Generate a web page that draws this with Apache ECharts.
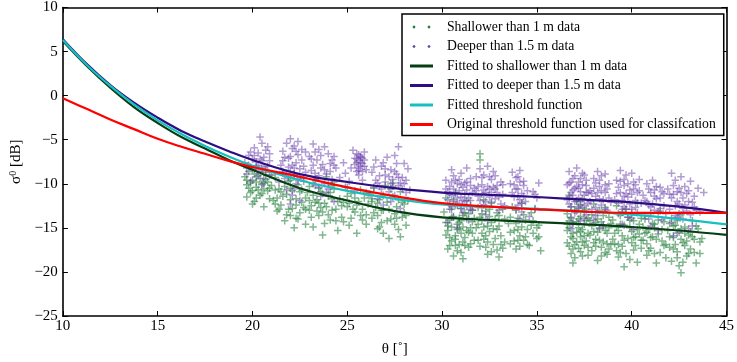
<!DOCTYPE html>
<html>
<head>
<meta charset="utf-8">
<script src="https://cdn.jsdelivr.net/npm/echarts@6/dist/echarts.min.js"></script>
<style>html,body{margin:0;padding:0;background:#fff;}#c{width:737px;height:362px;}</style>
</head>
<body>
<div id="c"></div>
<script>
// Tick values
const xTicks = [10, 15, 20, 25, 30, 35, 40, 45];
const yTicks = [-25, -20, -15, -10, -5, 0, 5, 10];

// Scatter: shallower than 1 m data [theta, sigma0]
const shallowData = [
[19.6,-9.2],[19.7,-10.1],[19.8,-8.6],[19.9,-11.0],[20.0,-9.6],[20.1,-8.9],[20.1,-12.0],[20.2,-10.4],[20.3,-9.1],[20.4,-11.3],[20.5,-8.3],[20.5,-10.0],[20.6,-12.6],[20.7,-9.5],[20.8,-10.8],[20.9,-11.7],[19.9,-9.9],[20.3,-10.7],[20.0,-12.3],[20.7,-8.7],[21.0,-10.2],[19.7,-11.5],[20.4,-9.4],[20.9,-9.0],
[20.0,-10.8],[20.2,-11.6],[20.6,-9.9],[19.8,-10.5],[20.5,-11.1],[20.8,-9.8],
[21.1,-11.9],[21.2,-9.3],[21.3,-13.1],[21.4,-10.6],[21.5,-12.4],[21.6,-8.8],[21.7,-14.2],[21.8,-11.2],[21.9,-9.7],[22.0,-13.6],[22.0,-10.5],[22.1,-12.8],[22.2,-8.9],[22.2,-15.0],[22.3,-11.7],[22.4,-10.1],[22.5,-13.3],[22.6,-12.1],[22.7,-9.4],[22.8,-14.6],[22.9,-11.0],[21.5,-10.9],[21.9,-12.9],[22.4,-14.0],[21.3,-11.6],[22.7,-12.7],
[21.2,-12.3],[21.6,-11.4],[21.8,-13.5],[22.1,-10.8],[22.3,-12.4],[22.6,-10.7],[22.8,-12.9],[22.0,-9.6],
[23.0,-10.3],[23.1,-12.5],[23.2,-14.9],[23.3,-9.5],[23.4,-11.8],[23.5,-13.6],[23.6,-10.9],[23.7,-15.8],[23.8,-12.2],[23.9,-9.2],[24.0,-11.4],[24.1,-14.1],[24.2,-13.0],[24.3,-10.6],[24.4,-12.9],[24.5,-15.3],[23.4,-13.1],[23.8,-14.5],[24.1,-11.0],[23.2,-11.3],[23.6,-12.7],[24.3,-9.8],
[23.1,-13.8],[23.3,-12.1],[23.5,-10.5],[23.7,-13.2],[23.9,-12.6],[24.2,-11.7],[24.4,-14.2],[23.0,-11.9],
[24.6,-11.7],[24.7,-13.8],[24.9,-10.4],[25.0,-12.6],[25.1,-14.7],[25.2,-11.1],[25.4,-13.2],[25.5,-15.6],[25.6,-12.0],[25.7,-10.7],[25.8,-14.1],[25.9,-11.6],[26.0,-13.5],[26.1,-12.3],[25.3,-12.9],[24.8,-12.1],
[24.7,-12.5],[25.0,-11.4],[25.2,-13.9],[25.5,-12.4],[25.8,-12.9],[26.0,-11.0],
[26.2,-11.2],[26.3,-13.9],[26.4,-10.5],[26.5,-12.7],[26.6,-15.1],[26.7,-11.8],[26.8,-14.4],[26.9,-13.0],[27.0,-10.2],[27.1,-12.1],[27.2,-16.2],[27.3,-14.0],[27.4,-11.5],[27.5,-13.4],[27.6,-12.6],[27.7,-15.2],[27.8,-10.9],[27.9,-13.8],[28.0,-12.3],[28.1,-14.7],[28.2,-11.9],[26.9,-15.6],[27.4,-9.9],[26.4,-13.3],[27.8,-16.0],
[26.3,-12.0],[26.6,-13.6],[26.9,-11.3],[27.2,-12.9],[27.5,-14.6],[27.7,-11.8],[28.0,-13.3],[26.7,-14.9],
[19.7,-9.6],[20.0,-8.4],[20.2,-9.8],[20.6,-10.6],[20.9,-10.5],[21.2,-10.7],[21.4,-12.9],[21.7,-10.3],[22.0,-11.8],[22.3,-13.9],[22.5,-10.9],[22.8,-11.6],[23.0,-13.0],[23.2,-10.0],[23.5,-12.2],[23.7,-11.1],[24.0,-13.5],[24.2,-10.2],[24.5,-12.0],[24.8,-14.3],[25.1,-12.2],[25.4,-11.6],[25.7,-13.6],[26.0,-14.6],[26.3,-11.7],[26.6,-12.2],[26.8,-13.0],[27.1,-14.2],[27.3,-10.6],[27.6,-13.9],[27.9,-12.1],[28.1,-13.6],
[30.1,-13.2],[30.2,-15.8],[30.2,-11.6],[30.3,-17.4],[30.4,-14.1],[30.4,-12.3],[30.5,-16.5],[30.6,-13.7],[30.6,-18.2],[30.7,-11.0],[30.8,-15.2],[30.8,-14.6],[30.9,-16.9],[31.0,-12.8],[31.0,-17.8],[31.1,-14.9],[31.2,-13.3],[31.2,-16.1],[31.3,-11.9],[31.4,-15.5],[31.4,-17.2],[31.5,-12.5],[31.6,-14.3],[31.7,-16.4],[30.3,-14.8],[30.5,-12.9],[30.9,-13.9],[31.1,-18.5],[31.6,-13.0],[30.7,-17.0],
[30.3,-15.3],[30.5,-13.8],[30.7,-15.9],[30.9,-14.4],[31.1,-16.6],[31.3,-14.0],[31.5,-15.0],[30.4,-17.0],[31.0,-15.6],[30.8,-12.4],
[30.2,-14.4],[30.4,-16.1],[30.5,-14.9],[30.6,-11.8],[30.7,-16.3],[30.8,-17.6],[30.9,-15.1],[31.0,-14.2],[31.1,-13.6],[31.2,-17.0],[31.3,-15.3],[31.4,-13.4],[31.5,-16.8],[31.6,-15.6],[31.7,-13.9],
[31.8,-15.0],[31.9,-12.7],[32.0,-6.6],[32.0,-7.3],[32.0,-17.1],[32.1,-14.2],[32.2,-16.3],[32.3,-13.1],[32.4,-18.0],[32.5,-15.4],[32.6,-12.2],[32.7,-16.9],[32.8,-14.0],[32.9,-17.5],[33.0,-13.6],[33.1,-15.9],[33.2,-12.9],[33.3,-16.6],[32.2,-11.8],[32.6,-17.7],[32.4,-14.8],[32.9,-15.2],[32.1,-13.4],[33.0,-18.3],
[31.9,-14.6],[32.1,-15.6],[32.3,-17.2],[32.5,-13.7],[32.7,-15.1],[32.9,-13.3],[33.1,-16.9],[32.3,-15.9],
[31.9,-16.4],[32.0,-13.8],[32.2,-14.9],[32.4,-16.6],[32.5,-12.9],[32.6,-14.4],[32.8,-16.2],[33.0,-14.8],[33.2,-17.3],[33.3,-14.0],
[33.5,-14.5],[33.6,-16.8],[33.7,-12.6],[33.8,-15.3],[33.9,-17.4],[34.0,-13.9],[34.1,-15.9],[34.2,-12.2],[34.3,-16.4],[34.4,-14.1],[34.6,-17.0],[34.7,-13.3],[34.8,-15.6],[34.9,-12.9],[35.0,-16.2],[35.1,-14.7],[35.2,-17.6],[34.2,-14.9],[33.9,-13.0],[34.5,-15.2],
[33.6,-15.5],[33.9,-14.5],[34.1,-17.1],[34.4,-16.0],[34.7,-14.7],[35.0,-15.0],[34.0,-16.4],
[33.6,-13.8],[33.8,-16.5],[34.0,-15.2],[34.3,-13.5],[34.5,-16.9],[34.8,-14.2],[35.1,-16.0],
[36.6,-13.4],[36.6,-16.7],[36.7,-11.3],[36.7,-15.0],[36.8,-17.9],[36.8,-12.6],[36.9,-14.4],[36.9,-16.2],[37.0,-13.0],[37.0,-18.4],[37.1,-15.5],[37.1,-12.0],[37.2,-14.0],[37.2,-17.3],[37.3,-16.0],[37.3,-13.7],[37.4,-11.7],[37.4,-15.2],[37.5,-17.0],[37.5,-14.6],[37.6,-12.9],[37.6,-16.5],[37.7,-18.1],[37.7,-13.9],[36.9,-19.0],[37.3,-12.4],
[36.7,-14.2],[36.9,-17.4],[37.1,-16.6],[37.2,-15.0],[37.4,-18.2],[37.5,-13.2],[37.7,-15.6],[36.8,-16.0],[37.3,-17.7],[36.6,-15.3],
[36.6,-14.6],[36.7,-17.1],[36.8,-13.8],[36.9,-15.6],[37.0,-16.9],[37.1,-14.3],[37.2,-12.8],[37.3,-15.4],[37.4,-16.6],[37.5,-15.9],[37.6,-14.1],[37.7,-17.2],
[37.8,-15.8],[37.9,-13.5],[37.9,-17.6],[38.0,-12.3],[38.1,-16.3],[38.1,-14.4],[38.2,-18.7],[38.3,-15.1],[38.3,-13.0],[38.4,-17.2],[38.5,-14.8],[38.5,-16.6],[38.6,-12.7],[38.7,-15.6],[38.7,-18.0],[38.8,-13.8],[38.9,-16.9],[38.2,-14.0],[38.6,-17.8],[38.0,-15.4],
[37.9,-14.8],[38.1,-17.1],[38.3,-16.4],[38.5,-13.6],[38.7,-16.8],[38.8,-15.0],[38.4,-18.2],
[37.8,-14.2],[38.0,-16.7],[38.2,-15.5],[38.4,-14.3],[38.6,-15.3],[38.8,-17.4],[38.9,-14.5],
[39.0,-14.1],[39.1,-16.8],[39.2,-12.5],[39.3,-18.3],[39.3,-15.3],[39.4,-13.6],[39.5,-17.1],[39.6,-14.7],[39.6,-19.4],[39.7,-12.9],[39.8,-16.2],[39.9,-15.0],[39.9,-18.6],[40.0,-13.3],[40.1,-17.5],[40.1,-14.2],[40.2,-16.0],[40.3,-12.2],[40.3,-18.9],[40.4,-15.7],[40.5,-13.9],[39.5,-15.9],[40.0,-16.7],[39.2,-17.6],
[39.1,-15.6],[39.3,-16.9],[39.5,-13.2],[39.7,-17.9],[39.9,-14.1],[40.1,-16.1],[40.3,-15.2],[40.5,-17.3],[39.4,-14.6],
[39.0,-16.3],[39.2,-14.9],[39.4,-17.8],[39.6,-16.4],[39.8,-13.8],[40.0,-15.4],[40.2,-17.0],[40.4,-14.6],[40.5,-16.4],
[40.6,-16.4],[40.7,-14.0],[40.8,-18.1],[40.9,-15.2],[41.0,-13.4],[41.0,-17.3],[41.1,-16.0],[41.2,-14.6],[41.3,-19.0],[41.4,-15.7],[41.5,-13.1],[41.5,-17.8],[41.6,-16.5],[41.7,-14.3],[41.8,-18.4],[41.2,-15.0],[40.8,-16.8],
[40.7,-15.6],[40.9,-17.6],[41.1,-14.5],[41.3,-16.3],[41.6,-15.2],[41.8,-16.9],
[40.6,-14.9],[40.8,-15.5],[41.0,-16.1],[41.2,-17.9],[41.4,-14.1],[41.7,-17.0],
[41.9,-15.3],[42.0,-17.2],[42.1,-13.9],[42.1,-18.8],[42.2,-16.1],[42.3,-14.7],[42.4,-17.7],[42.4,-15.6],[42.5,-19.3],[42.6,-13.5],[42.6,-20.1],[42.7,-16.7],[42.8,-14.9],[42.9,-18.2],[43.0,-15.8],[43.1,-17.4],[43.2,-14.2],[43.3,-16.3],[43.4,-19.0],[43.5,-15.1],[43.6,-17.9],[42.3,-16.9],[42.8,-17.0],[43.7,-16.2],
[42.0,-16.0],[42.2,-14.8],[42.4,-18.4],[42.6,-15.1],[42.9,-16.5],[43.1,-15.5],[43.3,-17.8],[42.7,-18.9],
[42.0,-14.5],[42.2,-17.4],[42.4,-14.2],[42.6,-16.3],[42.8,-15.6],[43.0,-17.9],[43.2,-16.0],[43.4,-14.8],[43.6,-16.6]
];

// Scatter: deeper than 1.5 m data [theta, sigma0]
const deepData = [
[19.6,-7.6],[19.7,-8.9],[19.8,-6.8],[19.9,-9.7],[20.0,-7.2],[20.1,-8.3],[20.1,-5.9],[20.2,-9.2],[20.3,-6.5],[20.3,-7.9],[20.4,-4.7],[20.4,-8.7],[20.5,-5.4],[20.5,-10.1],[20.6,-7.0],[20.6,-9.4],[20.7,-6.2],[20.8,-8.0],[20.9,-7.4],[21.0,-9.0],[20.2,-7.5],[20.8,-5.8],
[19.9,-8.1],[20.1,-6.8],[20.3,-8.6],[20.5,-7.4],[20.7,-8.5],[19.8,-7.9],
[21.5,-7.9],[21.6,-6.3],[21.7,-9.4],[21.8,-5.4],[21.8,-10.7],[21.9,-7.1],[22.0,-8.6],[22.0,-4.9],[22.1,-6.0],[22.1,-11.3],[22.2,-9.0],[22.2,-5.7],[22.3,-7.6],[22.3,-10.0],[22.4,-6.7],[22.5,-8.3],[22.5,-11.9],[22.6,-7.3],[22.7,-9.7],[22.8,-6.4],[21.4,-9.8],[22.0,-12.3],[22.4,-5.2],[21.9,-8.1],
[21.7,-7.0],[21.9,-9.2],[22.1,-7.9],[22.3,-6.3],[22.5,-9.3],[22.7,-8.0],[22.2,-10.6],[21.6,-8.6],
[23.0,-6.9],[23.1,-8.5],[23.2,-5.5],[23.3,-10.2],[23.4,-7.3],[23.5,-6.1],[23.5,-9.1],[23.6,-11.4],[23.7,-7.8],[23.8,-5.8],[23.9,-8.9],[24.0,-6.6],[24.0,-10.6],[24.1,-7.7],[24.2,-9.5],[24.3,-12.0],[24.4,-8.2],[23.3,-6.4],[23.9,-11.0],[24.3,-6.9],
[23.2,-7.9],[23.4,-9.4],[23.6,-6.8],[23.8,-8.4],[24.0,-9.9],[24.2,-7.3],[23.5,-10.4],
[24.6,-9.3],[24.8,-7.6],[25.0,-10.4],[25.2,-8.2],[25.3,-6.2],[25.4,-7.1],[25.5,-8.6],[25.5,-6.6],[25.6,-7.4],[25.6,-9.0],[25.7,-6.9],[25.7,-8.0],[25.8,-7.7],[25.8,-9.6],[25.9,-6.4],[26.0,-8.4],[26.1,-11.2],[25.1,-9.7],[25.4,-10.8],[24.9,-8.8],
[25.4,-7.8],[25.6,-8.2],[25.7,-7.0],[25.8,-8.6],[25.5,-7.6],[25.9,-7.3],[25.6,-6.7],
[26.3,-8.7],[26.4,-10.4],[26.5,-7.3],[26.6,-11.7],[26.7,-9.1],[26.8,-8.0],[26.9,-12.4],[27.0,-9.8],[27.1,-7.0],[27.2,-10.9],[27.3,-8.4],[27.4,-9.5],[27.5,-11.3],[27.5,-6.8],[27.6,-8.9],[27.7,-5.8],[27.7,-10.2],[27.8,-12.8],[27.9,-9.3],[28.0,-7.7],[28.1,-11.0],[28.2,-8.3],[28.3,-10.7],[26.9,-7.6],[27.3,-12.0],[26.6,-9.9],
[26.5,-9.6],[26.8,-10.6],[27.0,-8.3],[27.2,-9.2],[27.4,-10.3],[27.6,-7.7],[27.8,-9.9],[28.0,-10.0],
[19.7,-8.2],[19.9,-6.4],[20.2,-8.0],[20.4,-7.2],[20.6,-8.1],[20.9,-6.6],[21.6,-7.4],[21.8,-8.8],[22.0,-6.9],[22.2,-8.2],[22.4,-9.5],[22.6,-6.1],[22.8,-8.7],[23.1,-7.2],[23.3,-8.8],[23.6,-8.2],[23.8,-10.0],[24.1,-8.6],[24.3,-7.9],[25.5,-7.2],[25.6,-8.5],[25.7,-7.6],[25.8,-7.1],[25.9,-8.0],[26.4,-8.1],[26.7,-10.3],[27.0,-9.0],[27.3,-10.0],[27.5,-8.6],[27.7,-9.3],[27.9,-10.6],[28.1,-9.6],
[30.2,-9.6],[30.3,-11.8],[30.3,-14.4],[30.4,-10.3],[30.5,-8.4],[30.5,-12.6],[30.6,-9.1],[30.6,-13.8],[30.7,-11.1],[30.8,-10.0],[30.8,-15.0],[30.9,-12.2],[31.0,-8.8],[31.0,-11.5],[31.1,-13.3],[31.2,-9.9],[31.2,-12.0],[31.3,-10.7],[31.4,-14.1],[31.5,-9.4],[31.5,-11.9],[31.6,-13.0],[31.7,-10.5],[30.4,-12.9],[31.3,-8.2],
[30.3,-10.9],[30.5,-11.3],[30.7,-9.6],[30.9,-10.8],[31.1,-11.9],[31.3,-12.6],[31.5,-10.2],[30.6,-12.0],[31.0,-10.1],
[30.2,-10.6],[30.4,-11.2],[30.5,-9.8],[30.6,-10.6],[30.7,-12.4],[30.8,-11.6],[30.9,-9.5],[31.0,-12.8],[31.1,-10.4],[31.2,-11.2],[31.3,-9.8],[31.4,-11.6],[31.5,-12.9],[31.6,-11.0],
[31.8,-9.2],[31.9,-11.4],[32.0,-8.3],[32.1,-12.7],[32.1,-10.1],[32.2,-9.0],[32.3,-13.5],[32.3,-11.0],[32.4,-8.0],[32.5,-10.6],[32.6,-12.1],[32.6,-9.5],[32.7,-8.6],[32.8,-11.7],[32.9,-10.2],[33.0,-13.0],[33.1,-9.8],[33.2,-11.2],[33.3,-12.5],[32.4,-14.2],[32.8,-9.1],
[31.9,-10.3],[32.1,-9.3],[32.3,-12.0],[32.5,-11.5],[32.7,-10.4],[32.9,-11.0],[33.1,-12.3],[32.2,-10.7],
[31.8,-10.8],[32.0,-11.9],[32.1,-11.2],[32.2,-12.4],[32.4,-10.3],[32.5,-9.2],[32.6,-11.0],[32.8,-10.6],[33.0,-11.5],[33.2,-10.1],
[33.6,-10.0],[33.7,-8.7],[33.8,-11.5],[33.9,-9.3],[34.0,-12.4],[34.0,-10.6],[34.1,-8.5],[34.2,-11.1],[34.2,-13.2],[34.3,-9.7],[34.4,-12.0],[34.6,-13.7],[34.8,-10.9],[34.9,-12.8],[35.0,-11.6],[35.1,-9.9],[34.1,-14.0],[33.9,-12.9],
[33.7,-11.0],[33.9,-10.6],[34.1,-11.8],[34.3,-10.2],[34.0,-9.2],[34.2,-12.2],
[33.8,-10.1],[34.0,-11.4],[34.1,-9.8],[34.3,-11.4],[34.5,-10.8],[34.9,-11.2],
[36.6,-10.1],[36.7,-12.3],[36.7,-8.6],[36.8,-13.9],[36.8,-11.0],[36.9,-9.4],[36.9,-14.6],[37.0,-12.0],[37.0,-10.5],[37.1,-8.2],[37.1,-13.1],[37.2,-11.6],[37.2,-9.8],[37.3,-14.2],[37.3,-10.9],[37.4,-12.7],[37.5,-9.0],[37.5,-11.3],[37.6,-13.5],[37.6,-10.2],[37.7,-12.2],[36.8,-15.1],[37.4,-8.8],
[36.7,-11.5],[36.9,-10.7],[37.0,-13.3],[37.2,-12.6],[37.3,-9.4],[37.5,-12.4],[37.6,-11.0],[36.8,-9.8],[37.1,-10.3],
[36.6,-11.8],[36.7,-9.9],[36.8,-12.6],[36.9,-11.3],[37.0,-9.1],[37.1,-11.9],[37.2,-10.5],[37.3,-12.0],[37.4,-10.1],[37.5,-13.9],[37.6,-9.6],[37.7,-11.0],
[37.8,-10.8],[37.9,-12.9],[38.0,-9.4],[38.0,-14.1],[38.1,-11.4],[38.2,-8.6],[38.2,-13.2],[38.3,-10.3],[38.4,-12.4],[38.4,-9.1],[38.5,-14.7],[38.6,-11.0],[38.6,-8.9],[38.7,-13.0],[38.8,-10.0],[38.9,-12.1],[38.3,-15.0],[38.1,-9.9],
[37.9,-11.1],[38.1,-12.7],[38.3,-9.6],[38.5,-11.8],[38.7,-10.6],[38.2,-11.0],[38.6,-12.9],
[37.8,-12.0],[38.0,-10.5],[38.1,-13.6],[38.3,-11.7],[38.4,-10.8],[38.6,-10.1],[38.8,-11.6],
[39.1,-11.8],[39.2,-9.6],[39.3,-13.4],[39.4,-8.5],[39.4,-11.0],[39.5,-14.6],[39.6,-10.2],[39.6,-12.6],[39.7,-9.0],[39.8,-13.8],[39.8,-11.5],[39.9,-10.7],[40.0,-8.8],[40.0,-12.9],[40.1,-15.2],[40.2,-10.1],[40.2,-11.9],[40.3,-13.3],[40.4,-9.5],[40.5,-12.2],[39.5,-11.9],[40.1,-9.8],
[39.3,-10.4],[39.5,-12.9],[39.7,-11.1],[39.9,-12.3],[40.1,-10.6],[40.3,-11.0],[39.6,-9.5],[40.0,-13.9],
[39.2,-11.1],[39.3,-12.2],[39.4,-9.7],[39.6,-11.4],[39.7,-12.9],[39.8,-10.0],[40.0,-11.2],[40.2,-12.7],[40.4,-10.8],
[40.6,-11.3],[40.7,-13.6],[40.8,-10.0],[40.9,-12.4],[41.0,-14.8],[41.0,-11.0],[41.1,-9.6],[41.2,-13.0],[41.3,-11.7],[41.4,-15.3],[41.5,-10.4],[41.5,-12.8],[41.6,-14.1],[41.7,-11.1],[41.8,-13.4],[41.2,-10.7],
[40.8,-12.0],[41.0,-12.6],[41.2,-11.4],[41.4,-13.2],[41.6,-10.9],[40.9,-14.0],
[40.7,-11.9],[40.9,-10.6],[41.1,-12.3],[41.3,-10.3],[41.5,-11.6],[41.7,-12.5],
[41.9,-10.6],[42.0,-12.9],[42.1,-8.8],[42.1,-14.4],[42.2,-11.2],[42.3,-9.6],[42.3,-13.6],[42.4,-10.9],[42.5,-15.5],[42.5,-12.3],[42.6,-9.2],[42.7,-11.6],[42.7,-14.0],[42.8,-10.3],[42.9,-13.1],[43.0,-12.0],[43.1,-9.7],[43.2,-14.8],[43.3,-11.4],[43.5,-10.5],[43.6,-13.2],[43.8,-11.0],[42.2,-15.9],[43.0,-15.1],
[42.1,-11.6],[42.3,-12.5],[42.5,-10.5],[42.7,-12.8],[42.9,-11.1],[43.1,-13.5],[42.4,-13.8],[43.3,-12.6],
[42.0,-11.2],[42.2,-10.2],[42.4,-12.0],[42.5,-13.4],[42.6,-11.0],[42.8,-12.4],[43.0,-10.8],[43.2,-12.1],[43.4,-13.0]
];

// Curves sampled from the figure
const curveTheta    = [10, 11.25, 12.5, 13.75, 15, 16.25, 17.5, 18.75, 20, 22.5, 25, 27.5, 30, 32.5, 35, 37.5, 40, 42.5, 45];
const fitShallow    = [6.2, 3.4, 0.9, -1.3, -3.1, -4.7, -6.0, -7.3, -8.4, -10.5, -11.9, -13.1, -13.8, -14.1, -14.35, -14.6, -14.9, -15.3, -15.8];
const fitDeep       = [6.4, 3.6, 1.2, -0.8, -2.5, -4.0, -5.2, -6.3, -7.3, -8.9, -9.8, -10.5, -11.0, -11.25, -11.5, -11.8, -12.1, -12.6, -13.3];
const fitThreshold  = [6.3, 3.5, 1.1, -1.0, -2.8, -4.35, -5.7, -6.9, -7.95, -9.6, -10.8, -11.7, -12.35, -12.6, -12.85, -13.15, -13.5, -14.0, -14.6];
const origThreshold = [-0.3, -1.5, -2.7, -3.8, -4.9, -5.8, -6.6, -7.4, -8.1, -9.2, -10.4, -11.4, -12.2, -12.6, -12.9, -13.15, -13.3, -13.3, -13.3];

const names = ['Shallower than 1 m data','Deeper than 1.5 m data','Fitted to shallower than 1 m data','Fitted to deeper than 1.5 m data','Fitted threshold function','Original threshold function used for classifcation'];

const pair = (xs, ys) => xs.map((x, i) => [x, ys[i]]);
const plus = 'path://M-1,-5H1V-1H5V1H1V5H-1V1H-5V-1H-1Z';
const dotsIcon = 'path://M4,5.3L5.7,7L4,8.7L2.3,7Z M19,5.3L20.7,7L19,8.7L17.3,7Z M0,0L0.01,0Z M23,14L22.99,14Z';
const lineIcon = 'path://M0,5.6H23V8.4H0Z M0,0L0.01,0Z M23,14L22.99,14Z';
const serif = '"Liberation Serif","DejaVu Serif",serif';

const axisCommon = {
  type: 'value', min: 10, max: 45, interval: 5,
  axisLine: {show: true, onZero: false, lineStyle: {color: '#000', width: 1.6}},
  axisTick: {show: true, inside: true, length: 5, lineStyle: {color: '#000', width: 1}},
  splitLine: {show: false}
};
const yCommon = Object.assign({}, axisCommon, {min: -25, max: 10});

const chart = echarts.init(document.getElementById('c'), null, {renderer: 'canvas'});
chart.setOption({
  animation: false,
  backgroundColor: '#fff',
  grid: {left: 52, right: 8, top: 7, bottom: 39, containLabel: false},
  xAxis: [
    Object.assign({}, axisCommon, {position: 'bottom',
      axisLabel: {show: true, margin: 3, color: '#000', fontFamily: serif, fontSize: 15, formatter: v => xTicks.includes(v) ? String(v) : ''},
      name: 'θ [˚]', nameLocation: 'middle', nameGap: 26,
      nameTextStyle: {color: '#000', fontFamily: serif, fontSize: 15}}),
    Object.assign({}, axisCommon, {position: 'top', axisLabel: {show: false}})
  ],
  yAxis: [
    Object.assign({}, yCommon, {position: 'left',
      axisLabel: {show: true, margin: 5, color: '#000', fontFamily: serif, fontSize: 15,
        formatter: v => yTicks.includes(v) ? String(v).replace('-', '\u2212') : ''},
      name: '{a|σ}{b|0} [dB]', nameLocation: 'middle', nameGap: 31, nameRotate: 90,
      nameTextStyle: {color: '#000', fontFamily: serif, fontSize: 15,
        rich: {a: {fontFamily: serif, fontSize: 15, color: '#000'}, b: {fontFamily: serif, fontSize: 10, color: '#000', verticalAlign: 'top', padding: [0,0,6,0]}}}}),
    Object.assign({}, yCommon, {position: 'right', axisLabel: {show: false}})
  ],
  legend: {
    left: 402, top: 14, orient: 'vertical',
    padding: [6, 8, 4, 8],
    itemWidth: 23, itemHeight: 14, itemGap: 5.5,
    borderColor: '#000', borderWidth: 1.5, borderRadius: 0,
    backgroundColor: '#fff',
    textStyle: {color: '#000', fontFamily: serif, fontSize: 13.7, padding: [0, 0, 0, 9]},
    data: [
      {name: names[0], icon: dotsIcon, itemStyle: {color: '#1f7a3a', opacity: 1}},
      {name: names[1], icon: dotsIcon, itemStyle: {color: '#6a46a8', opacity: 1}},
      {name: names[2], icon: lineIcon},
      {name: names[3], icon: lineIcon},
      {name: names[4], icon: lineIcon},
      {name: names[5], icon: lineIcon}
    ]
  },
  series: [
    {name: names[0], type: 'scatter', data: shallowData, symbol: plus, symbolSize: 7.5,
      itemStyle: {color: 'rgba(30,125,55,0.7)'}, color: '#1f7a3a', z: 2},
    {name: names[1], type: 'scatter', data: deepData, symbol: plus, symbolSize: 7.5,
      itemStyle: {color: 'rgba(105,65,170,0.65)'}, color: '#6a46a8', z: 2},
    {name: names[2], type: 'line', data: pair(curveTheta, fitShallow), smooth: 0.4, symbol: 'none',
      color: '#063d12', lineStyle: {color: '#063d12', width: 2.2}, z: 3},
    {name: names[3], type: 'line', data: pair(curveTheta, fitDeep), smooth: 0.4, symbol: 'none',
      color: '#2e0c82', lineStyle: {color: '#2e0c82', width: 2.2}, z: 3},
    {name: names[4], type: 'line', data: pair(curveTheta, fitThreshold), smooth: 0.4, symbol: 'none',
      color: '#16bfc0', lineStyle: {color: '#16bfc0', width: 2.2}, z: 3},
    {name: names[5], type: 'line', data: pair(curveTheta, origThreshold), smooth: 0.4, symbol: 'none',
      color: '#ff0000', lineStyle: {color: '#ff0000', width: 2.2}, z: 3}
  ]
});
</script>
</body>
</html>
